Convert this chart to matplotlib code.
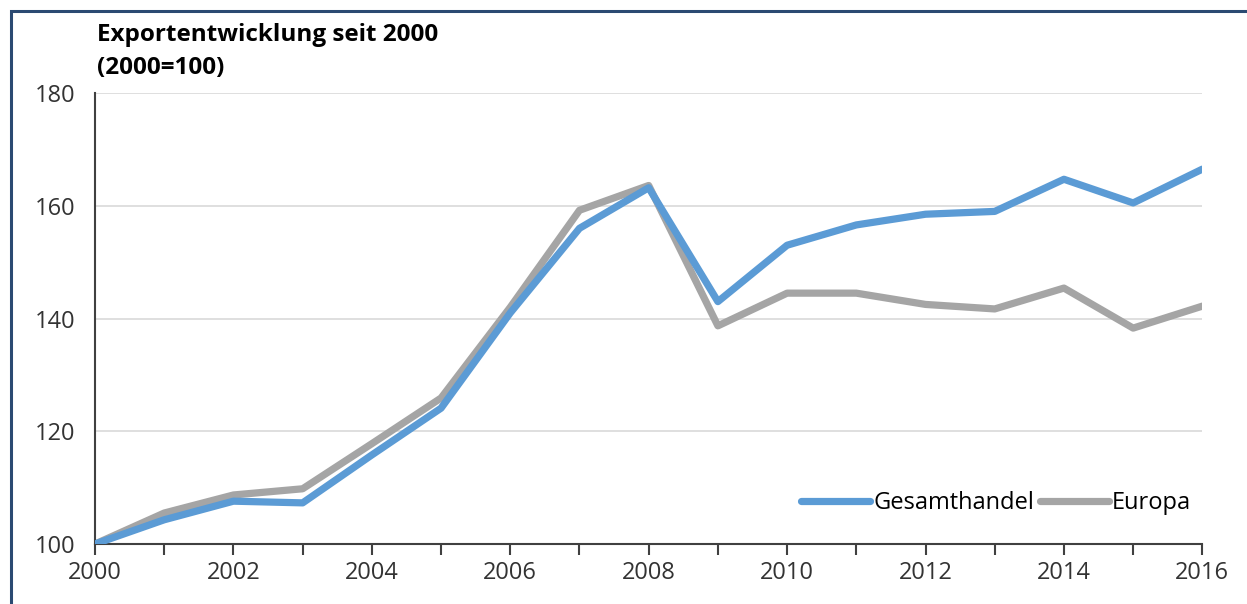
import numpy as np
import matplotlib.pyplot as plt
from matplotlib.patches import Rectangle

years = list(range(2000, 2017))
gesamthandel = [100, 104.3, 107.6, 107.3, 115.8, 124.1, 141.0, 156.0, 163.2,
                143.0, 153.0, 156.6, 158.5, 159.0, 164.7, 160.5, 166.5]
europa = [100, 105.5, 108.7, 109.8, 117.8, 125.9, 142.0, 159.2, 163.6,
          138.7, 144.5, 144.5, 142.5, 141.7, 145.4, 138.3, 142.2]

plt.rcParams['font.family'] = ['Open Sans', 'DejaVu Sans']

fig = plt.figure(figsize=(12.47, 6.04), dpi=100)
ax = fig.add_axes([0.0762, 0.0993, 0.8880, 0.7467])

ax.plot(years, gesamthandel, color='#5B9BD5', lw=5.2, solid_capstyle='round',
        solid_joinstyle='round', label='Gesamthandel', zorder=3)
ax.plot(years, europa, color='#A5A5A5', lw=5.2, solid_capstyle='round',
        solid_joinstyle='round', label='Europa', zorder=2)

ax.set_xlim(2000, 2016)
ax.set_ylim(100, 180)
ax.set_xticks(years)
ax.set_xticklabels([str(y) if y % 2 == 0 else '' for y in years])
ax.set_yticks([100, 120, 140, 160, 180])
ax.yaxis.grid(True, color='#D9D9D9', lw=1.2)
ax.set_axisbelow(True)

for s in ['top', 'right']:
    ax.spines[s].set_visible(False)
for s in ['left', 'bottom']:
    ax.spines[s].set_color('#404040')
    ax.spines[s].set_linewidth(1.5)
ax.tick_params(axis='x', direction='out', length=8, width=1.5, color='#404040',
               labelsize=17, labelcolor='#333333', pad=4)
ax.tick_params(axis='y', length=0, labelsize=17, labelcolor='#333333', pad=14)

leg = ax.legend(loc='center right', bbox_to_anchor=(0.99, 0.091), ncol=2,
                frameon=False, fontsize=17, handlelength=2.9,
                handletextpad=0.15, columnspacing=0.25,
                borderaxespad=0, borderpad=0)

fig.text(0.078, 0.942, 'Exportentwicklung seit 2000', fontsize=17.5,
         fontweight='bold', va='center', ha='left')
fig.text(0.078, 0.887, '(2000=100)', fontsize=17.5,
         fontweight='bold', va='center', ha='left')

# frame
fig.patches.append(Rectangle((11 / 1247, -0.05), 1.1, (604 - 11) / 604 + 0.05,
                             transform=fig.transFigure, fill=False,
                             edgecolor='#2B4A72', lw=2.2, clip_on=False))

fig.savefig('out.png', dpi=100)
